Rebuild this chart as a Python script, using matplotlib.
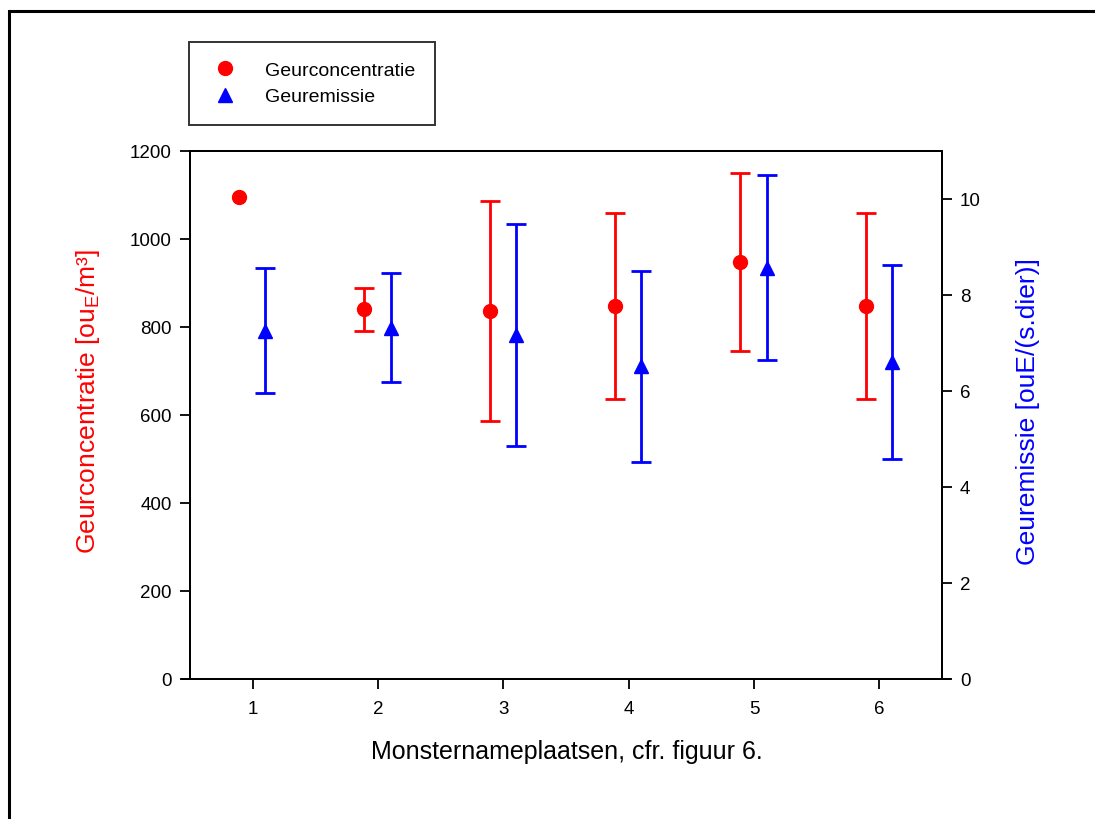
import matplotlib
matplotlib.use("Agg")
import matplotlib.pyplot as plt
from matplotlib.patches import Rectangle
from matplotlib.lines import Line2D
import numpy as np

plt.rcParams['font.family'] = ['Liberation Sans', 'DejaVu Sans']

# Data
locations = [1, 2, 3, 4, 5, 6]
conc_mean = [1095, 840, 836, 848, 948, 848]
conc_err = [0, 48, 250, 211, 202, 211]
emis_mean = [7.26, 7.32, 7.16, 6.52, 8.57, 6.61]
emis_err = [1.30, 1.14, 2.31, 1.99, 1.93, 2.02]
xticks = [1, 2, 3, 4, 5, 6]
left_ticks = [0, 200, 400, 600, 800, 1000, 1200]
right_ticks = [0, 2, 4, 6, 8, 10]

W, H = 1095, 820
fig = plt.figure(figsize=(W / 100, H / 100), dpi=100)

ax = fig.add_axes([190 / W, 1 - 680 / H, (942 - 190) / W, (680 - 152) / H])
ax2 = ax.twinx()

x = np.array(locations, dtype=float)
cm = np.array(conc_mean, dtype=float)
ce = np.array(conc_err, dtype=float)
has_err = ce > 0
ax.errorbar(x[has_err] - 0.11, cm[has_err], yerr=ce[has_err], fmt='none',
            ecolor='red', elinewidth=2, capsize=7, capthick=2, zorder=3)
ax.plot(x - 0.11, cm, 'o', color='red', ms=10, zorder=4)
ax2.errorbar(x + 0.1, emis_mean, yerr=emis_err, fmt='^', color='blue', ms=10,
             elinewidth=2, capsize=7, capthick=2, zorder=3)

ax.set_xlim(0.5, 6.5)
ax.set_ylim(0, 1200)
ax2.set_ylim(0, 11)
ax.set_xticks(xticks)
ax.set_yticks(left_ticks)
ax2.set_yticks(right_ticks)

for a in (ax, ax2):
    a.tick_params(direction='out', length=7, width=1.3, labelsize=13.5, pad=6)
    for s in a.spines.values():
        s.set_linewidth(1.4)
ax.tick_params(axis='x', pad=8)

xl = ax.set_xlabel('Monsternameplaatsen, cfr. figuur 6.', fontsize=18)
ax.xaxis.set_label_coords(0.501, (680 - 752) / 528)
xl.set_va('center')

yl = ax.set_ylabel(r'Geurconcentratie [ou$_{\mathregular{E}}$/m³]', fontsize=19,
                   color='red')
ax.yaxis.set_label_coords((88 - 190) / 752, (680 - 401) / 528)
yl.set_va('center')
yl.set_ha('center')

yr = ax2.set_ylabel('Geuremissie [ouE/(s.dier)]', fontsize=19, color='blue',
                    rotation=90)
ax2.yaxis.set_label_coords((1028 - 190) / 752, (680 - 412) / 528)
yr.set_va('center')
yr.set_ha('center')

# bottom axis line slightly extended beyond the frame
ax.add_line(Line2D([-0.01, 1.01], [0, 0], transform=ax.transAxes, color='black',
                   lw=1.4, clip_on=False))

# Legend box
leg_handles = [
    Line2D([], [], marker='o', color='red', ls='none', ms=10),
    Line2D([], [], marker='^', color='blue', ls='none', ms=10),
]
leg = fig.legend(leg_handles, ['Geurconcentratie', 'Geuremissie'],
                 loc='upper left', bbox_to_anchor=(189 / W, 1 - 43 / H),
                 fontsize=14, frameon=True, fancybox=False, edgecolor='black',
                 borderpad=1.0, handletextpad=1.2, labelspacing=0.45,
                 borderaxespad=0, handlelength=1.7)
leg.get_frame().set_linewidth(1.4)

# Figure border (top and left visible)
fig.patches.append(Rectangle((9 / W, -0.05), 1.2, 1 - 12 / H + 0.05,
                             transform=fig.transFigure, fill=False,
                             edgecolor='black', lw=2.2, zorder=0))

fig.savefig('out.png', dpi=100)
